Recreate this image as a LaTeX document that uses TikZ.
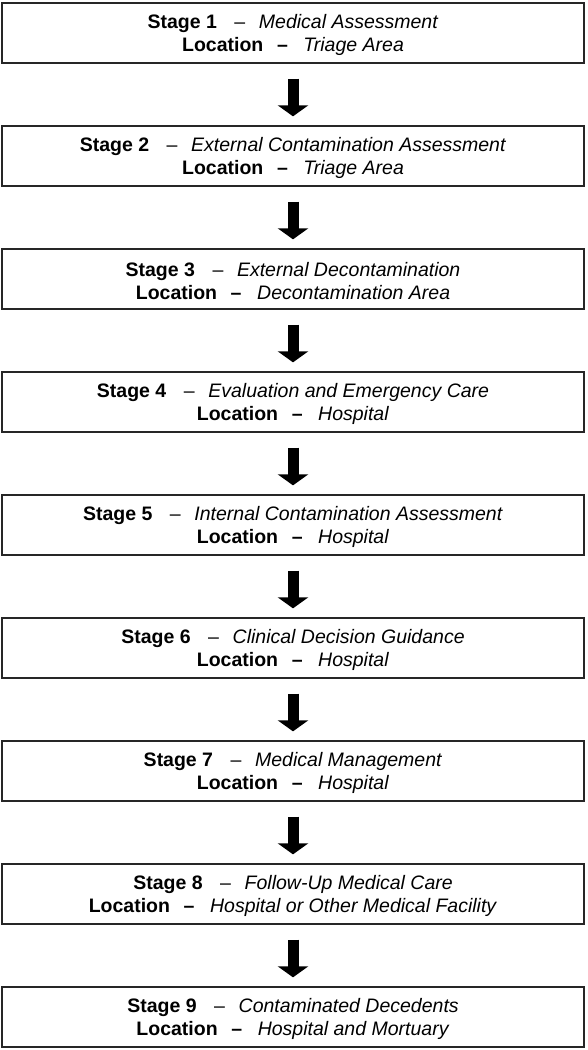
\documentclass[tikz,border=0pt]{standalone}
\usepackage{fontspec}
\setmainfont{Liberation Sans}
\usepackage{tikz}
\usetikzlibrary{arrows.meta}

\newcommand{\stageline}[2]{\rule{0pt}{18pt}\textbf{Stage #1}\hspace{0.9em}--\hspace{0.7em}\textit{#2}}
\newcommand{\placeline}[1]{\textbf{Location\hspace{0.7em}--}\hspace{0.8em}\textit{#1}}

\begin{document}
\begin{tikzpicture}[x=1pt, y=1pt,
        stagebox/.style={draw=black!85, line width=1.3pt, minimum width=582pt, minimum height=60pt,
            inner sep=0pt, align=center, font=\fontsize{19.5}{23}\selectfont},
        flowarrow/.style={line width=11pt, -{Triangle[width=30pt, length=11pt]},
            shorten <=15pt, shorten >=9pt}]
        \useasboundingbox (0,0) rectangle (587,-1050);
        \node[stagebox] (s1) at (293,-33) {\stageline{1}{Medical Assessment}\\ \placeline{Triage Area}};
        \node[stagebox] (s2) at (293,-156) {\stageline{2}{External Contamination Assessment}\\ \placeline{Triage Area}};
        \node[stagebox] (s3) at (293,-279) {\stageline{3}{External Decontamination}\\ \placeline{Decontamination Area}};
        \node[stagebox] (s4) at (293,-402) {\stageline{4}{Evaluation and Emergency Care}\\ \placeline{Hospital}};
        \node[stagebox] (s5) at (293,-525) {\stageline{5}{Internal Contamination Assessment}\\ \placeline{Hospital}};
        \node[stagebox] (s6) at (293,-648) {\stageline{6}{Clinical Decision Guidance}\\ \placeline{Hospital}};
        \node[stagebox] (s7) at (293,-771) {\stageline{7}{Medical Management}\\ \placeline{Hospital}};
        \node[stagebox] (s8) at (293,-894) {\stageline{8}{Follow-Up Medical Care}\\ \placeline{Hospital or Other Medical Facility}};
        \node[stagebox] (s9) at (293,-1017) {\stageline{9}{Contaminated Decedents}\\ \placeline{Hospital and Mortuary}};
        \draw[flowarrow] (s1) -- (s2);
        \draw[flowarrow] (s2) -- (s3);
        \draw[flowarrow] (s3) -- (s4);
        \draw[flowarrow] (s4) -- (s5);
        \draw[flowarrow] (s5) -- (s6);
        \draw[flowarrow] (s6) -- (s7);
        \draw[flowarrow] (s7) -- (s8);
        \draw[flowarrow] (s8) -- (s9);
    \end{tikzpicture}
\end{document}
